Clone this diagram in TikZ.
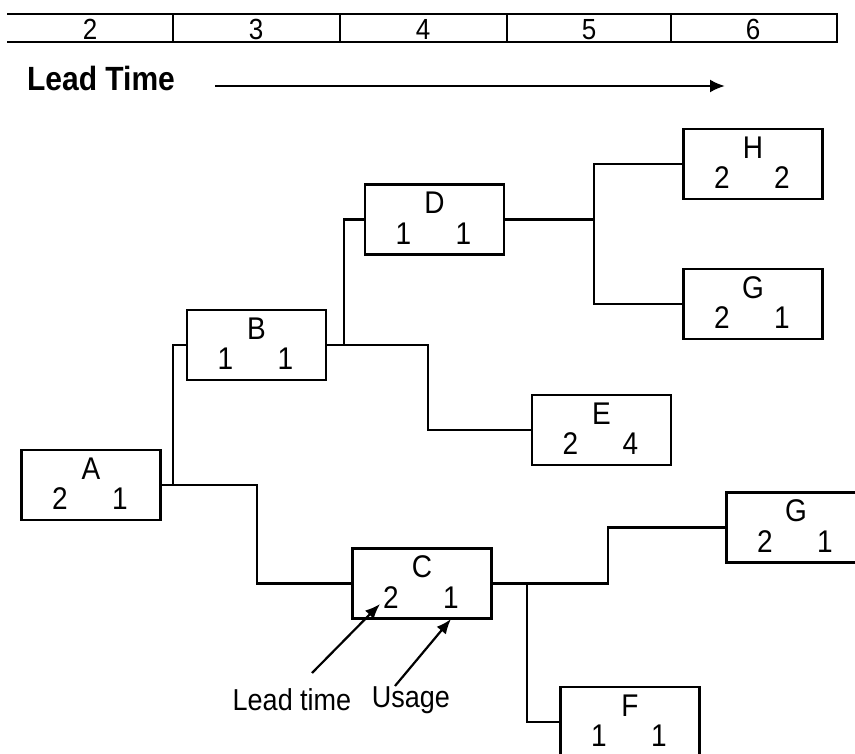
\documentclass[tikz,border=0pt]{standalone}
\usepackage{fontspec}
\usepackage{graphicx}
\setmainfont{Liberation Sans}
\usetikzlibrary{arrows.meta}

\tikzset{
  wire/.style={line width=2.4pt, line cap=rect},
  part/.style={draw, line width=2.4pt, minimum width=139pt, minimum height=70pt, inner sep=0pt},
  lbl/.style={inner sep=0pt, font=\fontsize{28}{28}\selectfont},
  tick/.style={inner sep=0pt, font=\fontsize{26}{26}\selectfont},
  pointer/.style={line width=2.2pt, -{Latex[length=15pt,width=12pt]}},
}

% text set a little taller than the font's own proportions
\newcommand\tall[1]{\scalebox{1}[1.12]{#1}}

% A part: name, centre x, centre y, letter, lead time, usage
\newcommand\partbox[6]{%
  \node[part] (#1) at (#2,#3) {};
  \node[lbl] (#1-name) at ([yshift=16.5pt]#1.center) {\tall{#4}};
  \node[lbl] (#1-lt) at ([shift={(-31pt,-14pt)}]#1.center) {\tall{#5}};
  \node[lbl] (#1-use) at ([shift={(29pt,-14pt)}]#1.center) {\tall{#6}};
}

\begin{document}
\begin{tikzpicture}[x=1pt, y=-1pt]
\useasboundingbox (0,0) rectangle (855,754);

% time scale
\draw[wire] (8,14) -- (837,14) -- (837,42) -- (8,42);
\foreach \x in {173,340,507,671} \draw[wire] (\x,14) -- (\x,42);
\node[tick] (t2) at (90,29.5) {\tall{2}};
\node[tick] (t3) at (256,29.5) {\tall{3}};
\node[tick] (t4) at (423,29.5) {\tall{4}};
\node[tick] (t5) at (589,29.5) {\tall{5}};
\node[tick] (t6) at (753,29.5) {\tall{6}};

% lead time direction
\node[inner sep=0pt, font=\fontsize{30}{30}\selectfont\bfseries] (lt) at (101,78) {\scalebox{1}[1.12]{Lead Time}};
\coordinate (ltstart) at (215,86);
\coordinate (ltend) at (725,86);
\draw[wire, line cap=butt, -{Latex[length=15pt,width=13pt]}] (ltstart) -- (ltend);

% product structure
\partbox{A}{91}{485}{A}{2}{1}
\partbox{B}{256.5}{345}{B}{1}{1}
\partbox{C}{422}{583.5}{C}{2}{1}
\partbox{D}{434.5}{219.5}{D}{1}{1}
\partbox{E}{601.5}{430}{E}{2}{4}
\partbox{H}{753}{164}{H}{2}{2}
\partbox{G1}{753}{304}{G}{2}{1}
\partbox{G2}{796}{527.5}{G}{2}{1}
\partbox{F}{630}{722}{F}{1}{1}

\coordinate (ab) at (173,485);
\coordinate (ac) at (257,485);
\coordinate (bd) at (344,345);
\coordinate (be) at (428,345);
\coordinate (dh) at (594,219.5);
\coordinate (cf) at (527,583.5);
\coordinate (cg) at (608,583.5);

\draw[wire] (A.east) -- (ab) |- (B.west);
\draw[wire] (A.east) -- (ac) |- (C.west);
\draw[wire] (B.east) -- (bd) |- (D.west);
\draw[wire] (B.east) -- (be) |- (E.west);
\draw[wire] (D.east) -- (dh) |- (H.west);
\draw[wire] (dh) |- (G1.west);
\draw[wire] (C.east) -- (cg) |- (G2.west);
\draw[wire] (cf) |- (F.west);

% legend
\node[lbl, font=\fontsize{27}{27}\selectfont] (leadlbl) at (292,700) {\tall{Lead time}};
\node[lbl, font=\fontsize{27}{27}\selectfont] (uselbl) at (411,700) {\tall{Usage}};
\coordinate (leadfrom) at (312,673);
\coordinate (leadto) at (380,604);
\coordinate (usefrom) at (395,686);
\coordinate (useto) at (451,619);
\draw[pointer] (leadfrom) -- (leadto);
\draw[pointer] (usefrom) -- (useto);
\end{tikzpicture}
\end{document}
